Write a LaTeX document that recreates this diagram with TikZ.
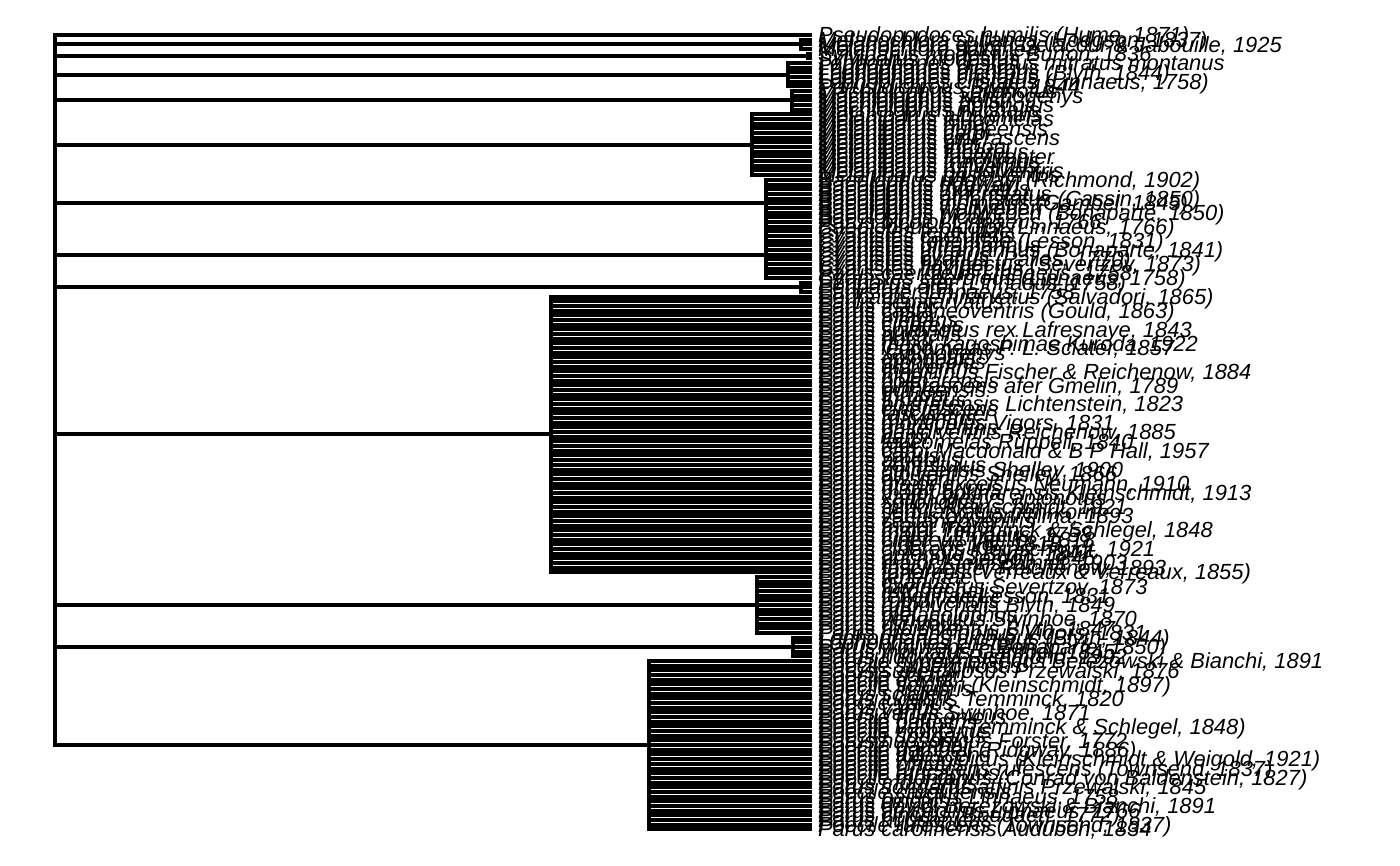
\documentclass[tikz,border=0pt]{standalone}
\usepackage{fontspec}
\setmainfont{Liberation Sans}
\begin{document}
\begin{tikzpicture}[x=1pt,y=-1pt,
  branch/.style={line width=4pt,line cap=rect,black},
  lab/.style={anchor=base west,inner sep=0pt,outer sep=0pt,font=\fontsize{21.9}{24}\selectfont\itshape}]
\useasboundingbox[fill=white] (0,0) rectangle (1400,865);
\def\dy{4.672}
\def\rx{54.7}
% tips
\foreach \i in {0,...,170} {
  \coordinate (t\i) at (810,{35+\i*\dy});
}
% root tip (single leaf)
\coordinate (r0) at (\rx,35);
\draw[branch] (r0) -- (t0);
% clades: x / first leaf / last leaf
\foreach \cx/\a/\b [count=\k] in {801/1/3, 808/4/5, 788/6/11, 792/12/16, 752/17/30, 766/31/41, 766/42/52, 801/53/55, 551/56/115, 757/116/128, 792.7/129/133, 649/134/170} {
  \coordinate (c\k) at (\cx,{35+(\a+\b)/2*\dy});
  \coordinate (r\k) at (\rx,{35+(\a+\b)/2*\dy});
  \coordinate (ct\k) at (\cx,{35+\a*\dy});
  \coordinate (cb\k) at (\cx,{35+\b*\dy});
  \draw[branch] (ct\k) -- (cb\k);
  \draw[branch] (r\k) -- (c\k);
  \foreach \i in {\a,...,\b} {
    \coordinate (s\i) at (\cx,{35+\i*\dy});
    \draw[branch] (s\i) -- (t\i);
  }
}
\draw[branch] (r0) -- (r12);
% labels
\foreach \t [count=\i from 0] in {
{Pseudopodoces humilis (Hume, 1871)},
{Melanochlora sultanea (Hodgson, 1837)},
{Melanochlora gayeti Delacour \& Jabouille, 1925},
{Melanochlora sultanea},
{Sylviparus modestus Burton, 1836},
{Sylviparus modestus},
{Lophophanes cristatus mitratus montanus},
{Lophophanes dichrous},
{Lophophanes dichrous (Blyth, 1844)},
{Lophophanes cristatus},
{Lophophanes cristatus (Linnaeus, 1758)},
{Parus dichrous Blyth, 1844},
{Machlolophus spilonotus},
{Machlolophus xanthogenys},
{Machlolophus holsti},
{Machlolophus aplonotus},
{Machlolophus nuchalis},
{Melaniparus albiventris},
{Melaniparus leucomelas},
{Melaniparus niger},
{Melaniparus guineensis},
{Melaniparus carpi},
{Melaniparus cinerascens},
{Melaniparus afer},
{Melaniparus thruppi},
{Melaniparus funereus},
{Melaniparus fasciiventer},
{Melaniparus fringillinus},
{Melaniparus rufiventris},
{Melaniparus pallidiventris},
{Melaniparus griseiventris},
{Baeolophus ridgwayi (Richmond, 1902)},
{Baeolophus ridgwayi},
{Baeolophus inornatus},
{Baeolophus atricristatus},
{Baeolophus atricristatus (Cassin, 1850)},
{Baeolophus inornatus (Gambel, 1845)},
{Baeolophus wollweberi},
{Baeolophus wollweberi (Bonaparte, 1850)},
{Baeolophus bicolor},
{Parus bicolor Linnaeus, 1766},
{Baeolophus bicolor (Linnaeus, 1766)},
{Cyanistes teneriffae},
{Cyanistes caeruleus},
{Cyanistes teneriffae (Lesson, 1831)},
{Cyanistes ultramarinus},
{Cyanistes ultramarinus (Bonaparte, 1841)},
{Cyanistes cyanus},
{Cyanistes cyanus (Pallas, 1770)},
{Cyanistes flavipectus (Severtzov, 1873)},
{Cyanistes flavipectus},
{Parus caeruleus Linnaeus, 1758},
{Cyanistes caeruleus (Linnaeus, 1758)},
{Periparus ater (Linnaeus, 1758)},
{Periparus ater},
{Parus ater Linnaeus, 1758},
{Periparus semilarvatus (Salvadori, 1865)},
{Parus semilarvatus},
{Parus major},
{Parus castaneoventris (Gould, 1863)},
{Parus minor},
{Parus elegans},
{Parus cinereus},
{Parus spilonotus rex Lafresnaye, 1843},
{Parus nuchalis},
{Parus holsti},
{Parus major kagoshimae Kuroda, 1922},
{Parus leucomelas P. L. Sclater, 1857},
{Parus xanthogenys},
{Parus aplonotus},
{Parus monticolus},
{Parus albiventris},
{Parus fringillinus Fischer \& Reichenow, 1884},
{Parus niger},
{Parus bokharensis},
{Parus cinerascens afer Gmelin, 1789},
{Parus guineensis},
{Parus thruppi},
{Parus funereus},
{Parus bokharensis Lichtenstein, 1823},
{Parus cinerascens},
{Parus fasciiventer},
{Parus rufiventris},
{Parus monticolus Vigors, 1831},
{Parus griseiventris},
{Parus pallidiventris Reichenow, 1885},
{Parus carpi},
{Parus leucomelas Rüppell, 1840},
{Parus afer},
{Parus carpi Macdonald \& B P Hall, 1957},
{Parus varius},
{Parus amabilis},
{Parus venustulus},
{Parus guineensis Shelley, 1900},
{Parus albiventris Shelley, 1866},
{Parus owstoni},
{Parus major excelsus Neumann, 1910},
{Parus ultramarinus},
{Parus major bokharensis Kleinschmidt, 1913},
{Parus xanthogenys aplonotus},
{Parus spilonotus},
{Parus minor Kleinschmidt, 1921},
{Parus semilarvatus nehrkorni},
{Parus varius owstoni Ijima, 1893},
{Parus castaneoventris},
{Parus major major},
{Parus minor Temminck \& Schlegel, 1848},
{Parus major Linnaeus, 1758},
{Parus cinereus Vieillot, 1818},
{Parus niger Vieillot, 1818},
{Parus cinereus Kleinschmidt, 1921},
{Parus aplonotus Blyth, 1847},
{Parus nuchalis Jerdon, 1845},
{Parus major Kleinschmidt, 1903},
{Parus fasciiventer Reichenow, 1893},
{Parus funereus (Verreaux \& Verreaux, 1855)},
{Parus teneriffae},
{Parus cyanus},
{Parus flavipectus Severtzov, 1873},
{Parus rufonuchalis},
{Parus teneriffae Lesson, 1831},
{Parus rubidiventris},
{Parus rufonuchalis Blyth, 1849},
{Parus ater},
{Parus melanolophus},
{Parus venustulus Swinhoe, 1870},
{Parus dichrous},
{Parus rubidiventris Blyth, 1847},
{Parus melanolophus Vigors, 1831},
{Lophophanes dichrous (Blyth, 1844)},
{Lophophanes cristatus},
{Parus wollweberi (Bonaparte, 1850)},
{Parus inornatus Gambel, 1845},
{Parus ridgwayi Richmond, 1902},
{Poecile hypermelaenus Berezowski \& Bianchi, 1891},
{Poecile superciliosus},
{Parus superciliosus Przewalski, 1876},
{Poecile sclateri},
{Poecile davidi},
{Poecile sclateri (Kleinschmidt, 1897)},
{Poecile lugubris},
{Parus sclateri},
{Parus lugubris Temminck, 1820},
{Poecile varius},
{Parus varius},
{Parus varius Swinhoe, 1871},
{Poecile hudsonicus},
{Poecile palustris},
{Poecile varius (Temminck \& Schlegel, 1848)},
{Poecile montanus},
{Poecile songarus},
{Parus hudsonicus Forster, 1772},
{Poecile gambeli},
{Poecile gambeli (Ridgway, 1886)},
{Poecile rufescens},
{Poecile weigoldicus (Kleinschmidt \& Weigold, 1921)},
{Poecile cinctus},
{Poecile rufescens rufescens (Townsend, 1837)},
{Poecile atricapillus},
{Poecile montanus (Conrad von Baldenstein, 1827)},
{Parus montanus},
{Parus songarus affinis Przewalski, 1845},
{Poecile carolinensis},
{Parus palustris Linnaeus, 1758},
{Parus cinctus},
{Parus davidi Berezowski \& Bianchi, 1891},
{Parus atricapillus Linnaeus, 1766},
{Parus cinctus (Boddaert, 1772)},
{Parus hudsonicus},
{Poecile rufescens (Townsend, 1837)},
{Parus carolinensis Audubon, 1834}} {
  \node[lab] (l\i) at (818,{35+\i*\dy+7.7}) {\t};
}
\end{tikzpicture}
\end{document}
